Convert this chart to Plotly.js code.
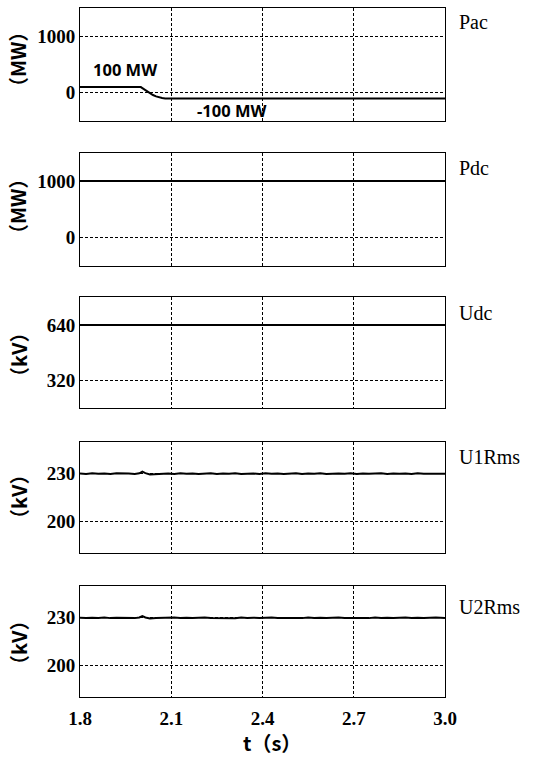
<!DOCTYPE html>
<html>
<head>
<meta charset="utf-8">
<script src="https://cdn.plot.ly/plotly-3.0.1.min.js"></script>
<style>html,body{margin:0;padding:0;background:#fff;}#chart{width:557px;height:762px;}</style>
</head>
<body>
<div id="chart"></div>
<script>
// ---- data ----
const panelNames = ["Pac", "Pdc", "Udc", "U1Rms", "U2Rms"];
const unitLabels = ["（MW）", "（MW）", "（kV）", "（kV）", "（kV）"];
const xTickVals = [1.8, 2.1, 2.4, 2.7, 3.0];
const xTickText = ["1.8", "2.1", "2.4", "2.7", "3.0"];
const xTitle = "t（s）";

const tPac = [1.80, 2.00, 2.01, 2.02, 2.028, 2.04, 2.05, 2.06, 2.07, 2.08, 3.00];
const pac  = [100, 100, 65, 28, 0, -40, -65, -82, -93, -100, -100];

const tPdc = [1.80, 3.00];
const pdc  = [1000, 1000];

const tUdc = [1.80, 3.00];
const udc  = [640, 640];

const tU = [1.80,1.82,1.84,1.86,1.88,1.90,1.92,1.94,1.96,1.98,1.995,2.005,2.015,2.03,2.05,2.07,2.09,2.11,2.13,2.15,
            2.17,2.19,2.21,2.23,2.25,2.27,2.29,2.31,2.33,2.35,2.37,2.39,2.41,2.43,2.45,2.47,2.49,2.51,2.53,2.55,
            2.57,2.59,2.61,2.63,2.65,2.67,2.69,2.71,2.73,2.75,2.77,2.79,2.81,2.83,2.85,2.87,2.89,2.91,2.93,2.95,
            2.97,3.00];
const u1 = [230.1,229.8,230.2,229.9,230.1,229.7,230.2,229.9,230.0,229.8,230.2,231.2,230.3,229.5,229.7,229.9,230.1,229.8,230.2,229.9,
            230.1,229.7,230.0,230.2,229.8,230.1,229.9,230.2,229.7,230.0,230.1,229.8,230.2,229.9,230.1,229.8,230.0,230.2,229.7,230.1,
            229.9,230.2,229.8,230.0,230.1,229.9,230.2,229.8,230.1,229.9,230.0,230.2,229.8,230.1,229.9,230.1,229.7,230.2,229.9,230.0,
            230.1,229.9];
const u2 = [230.0,229.8,230.1,229.9,230.2,229.8,230.1,229.9,230.1,229.8,230.2,231.1,230.2,229.6,229.8,230.0,229.8,230.2,229.9,230.1,
            229.8,230.0,230.2,229.9,229.8,230.1,230.0,229.7,230.2,229.9,230.1,229.8,230.0,230.2,229.9,229.8,230.1,230.0,229.8,230.2,
            229.9,230.1,229.8,230.0,230.2,229.9,229.8,230.1,230.0,229.8,230.2,229.9,230.1,229.8,230.0,230.2,229.9,230.1,229.8,230.0,
            230.2,229.9];

const yRanges = [[-500, 1500], [-500, 1500], [160, 800], [180, 250], [180, 250]];
const yTicks  = [[0, 1000], [0, 1000], [320, 640], [200, 230], [200, 230]];

// ---- layout helpers (pixel geometry) ----
const W = 557, H = 762;
const plotLeft = 80, plotRight = 445;
const panelTopBottom = [[8, 121], [152.7, 265.7], [297.3, 408.3], [441.7, 553.3], [586, 697.3]];
const nameY = [22.5, 168, 312.5, 457, 607];
const unitY = [60, 207, 355, 497, 643];
const px = v => v / W;
const py = v => (H - v) / H;

const series = [[tPac, pac], [tPdc, pdc], [tUdc, udc], [tU, u1], [tU, u2]];
const traces = series.map((s, i) => ({
  x: s[0], y: s[1], type: 'scatter', mode: 'lines',
  line: {color: '#000', width: 2},
  xaxis: 'x' + (i === 0 ? '' : i + 1),
  yaxis: 'y' + (i === 0 ? '' : i + 1),
  hoverinfo: 'skip', showlegend: false
}));

const bold = s => '<b>' + s + '</b>';
const serif = 'Liberation Serif';
const layout = {
  width: W, height: H,
  margin: {l: 0, r: 0, t: 0, b: 0},
  paper_bgcolor: '#fff', plot_bgcolor: '#fff',
  showlegend: false,
  annotations: []
};

for (let i = 0; i < 5; i++) {
  const sfx = i === 0 ? '' : String(i + 1);
  const [top, bot] = panelTopBottom[i];
  layout['xaxis' + sfx] = {
    domain: [px(plotLeft), px(plotRight)],
    range: [1.8, 3.0],
    anchor: 'y' + sfx,
    tickvals: xTickVals, ticktext: xTickText.map(bold),
    showticklabels: i === 4,
    ticks: i === 4 ? 'outside' : '', ticklen: 4, tickcolor: 'rgba(0,0,0,0)',
    tickfont: {family: serif, size: 19, color: '#000'},
    showgrid: true, gridcolor: '#000', gridwidth: 1, griddash: '3px,2px',
    zeroline: false,
    showline: true, linecolor: '#000', linewidth: 1, mirror: true,
    fixedrange: true
  };
  layout['yaxis' + sfx] = {
    domain: [py(bot), py(top)],
    range: yRanges[i],
    anchor: 'x' + sfx,
    tickvals: yTicks[i], ticktext: yTicks[i].map(v => bold(String(v))),
    ticks: '', tickfont: {family: serif, size: 19, color: '#000'},
    showgrid: true, gridcolor: '#000', gridwidth: 1, griddash: '3px,2px',
    zeroline: false,
    showline: true, linecolor: '#000', linewidth: 1, mirror: true,
    fixedrange: true
  };
  layout.annotations.push({
    text: panelNames[i], xref: 'paper', yref: 'paper',
    x: px(457), y: py(nameY[i]), xanchor: 'left', yanchor: 'middle',
    showarrow: false,
    font: {family: serif, size: 20, color: '#000'}
  });
  layout.annotations.push({
    text: bold(unitLabels[i]), xref: 'paper', yref: 'paper',
    x: px(18), y: py(unitY[i]), xanchor: 'center', yanchor: 'middle',
    textangle: -90, showarrow: false,
    font: {family: 'Noto Sans CJK SC', size: 20, color: '#000'}
  });
}

layout.annotations.push({
  text: bold('100 MW'), xref: 'paper', yref: 'paper', x: px(91), y: py(70),
  xanchor: 'left', yanchor: 'middle', showarrow: false,
  font: {family: 'Noto Sans', size: 16.5, color: '#000'}
});
layout.annotations.push({
  text: bold('-100 MW'), xref: 'paper', yref: 'paper', x: px(195), y: py(111),
  xanchor: 'left', yanchor: 'middle', showarrow: false,
  font: {family: 'Noto Sans', size: 16.5, color: '#000'}
});
layout.annotations.push({
  text: bold(xTitle), xref: 'paper', yref: 'paper', x: px(272), y: py(742),
  xanchor: 'center', yanchor: 'middle', showarrow: false,
  font: {family: 'Noto Sans CJK SC', size: 20, color: '#000'}
});

Plotly.newPlot('chart', traces, layout, {staticPlot: true, displayModeBar: false});
</script>
</body>
</html>
